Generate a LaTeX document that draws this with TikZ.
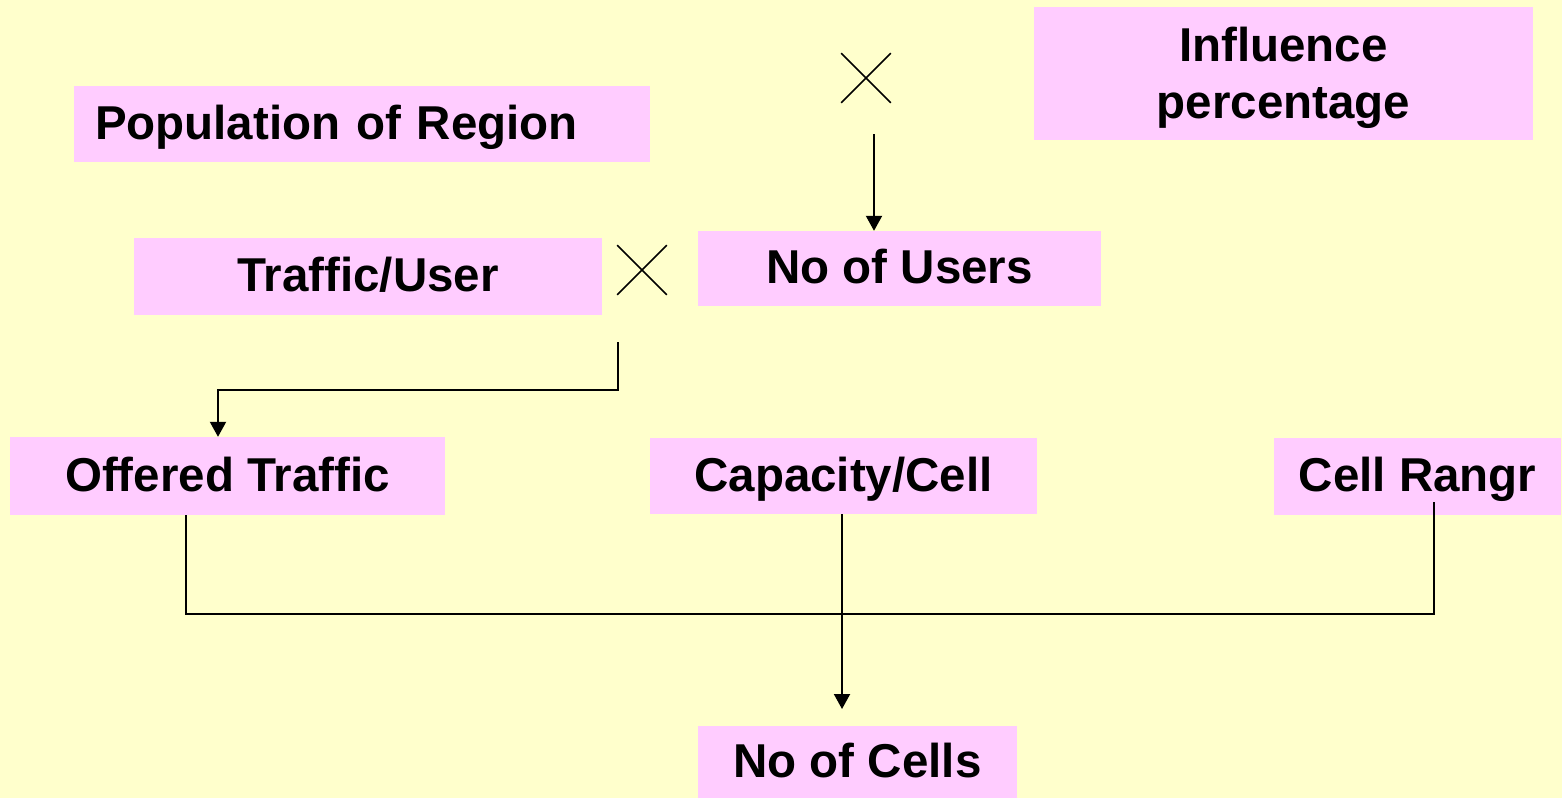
\documentclass[tikz,border=0pt]{standalone}
\usepackage{fontspec}
\setmainfont{Liberation Sans}
\usetikzlibrary{shapes.misc,arrows.meta}
\definecolor{bgyellow}{HTML}{FFFFCC}
\definecolor{boxpink}{HTML}{FFCCFF}

\begin{document}
\begin{tikzpicture}[x=1pt,y=-1pt,
  box/.style={fill=boxpink, inner sep=0pt, text=black,
    font=\bfseries\fontsize{47.5}{57}\selectfont, align=center},
  line1/.style={box, text height=34pt, text depth=4pt},
  mult/.style={draw, cross out, line width=1.6pt, minimum size=48pt, inner sep=0pt},
  link/.style={line width=2pt},
  flow/.style={link, -{Triangle[length=15pt,width=16pt]}}]

% background
\fill[bgyellow] (0,0) rectangle (1562,798);
\useasboundingbox (0,0) rectangle (1562,798);

% boxes
\node[line1, minimum width=576pt, minimum height=76pt, text width=534pt, align=left]
  (pop) at (362,124) {Population of Region};
\fill[boxpink] (1034,7) rectangle (1533,140);
\node[box, inner sep=0pt] (infl) at (1283.5,78) {Influence\\percentage};
\node[line1, minimum width=468pt, minimum height=77pt] (tu) at (368,276.5) {Traffic/User};
\node[line1, minimum width=403pt, minimum height=75pt] (users) at (899.5,268.5) {No of Users};
\node[line1, minimum width=435pt, minimum height=78pt] (offered) at (227.5,476) {Offered Traffic};
\node[line1, minimum width=387pt, minimum height=76pt] (cap) at (843.5,476) {Capacity/Cell};
\node[line1, minimum width=287pt, minimum height=77pt] (range) at (1417.5,476.5) {Cell Rangr};
\node[line1, minimum width=319pt, minimum height=72pt] (cells) at (857.5,762) {No of Cells};

% multiplication marks
\node[mult] (xa) at (866,78) {};
\node[mult] (xb) at (642,270) {};

% connector end points
\coordinate (a1) at (874,134);
\coordinate (b1) at (618,342);
\coordinate (b2) at (618,390);
\coordinate (bus) at (842,614);
\coordinate (r1) at (1434,502);
\coordinate (c2) at (842,709);

% connectors
\draw[flow] (a1) -- (a1 |- users.north);
\draw[flow] (b1) -- (b2) -| ([xshift=-9.5pt]offered.north);
\draw[link] ([xshift=-41.5pt]offered.south) |- (bus) -| (r1);
\draw[flow] ([xshift=-1.5pt]cap.south) -- (c2);
\end{tikzpicture}
\end{document}
